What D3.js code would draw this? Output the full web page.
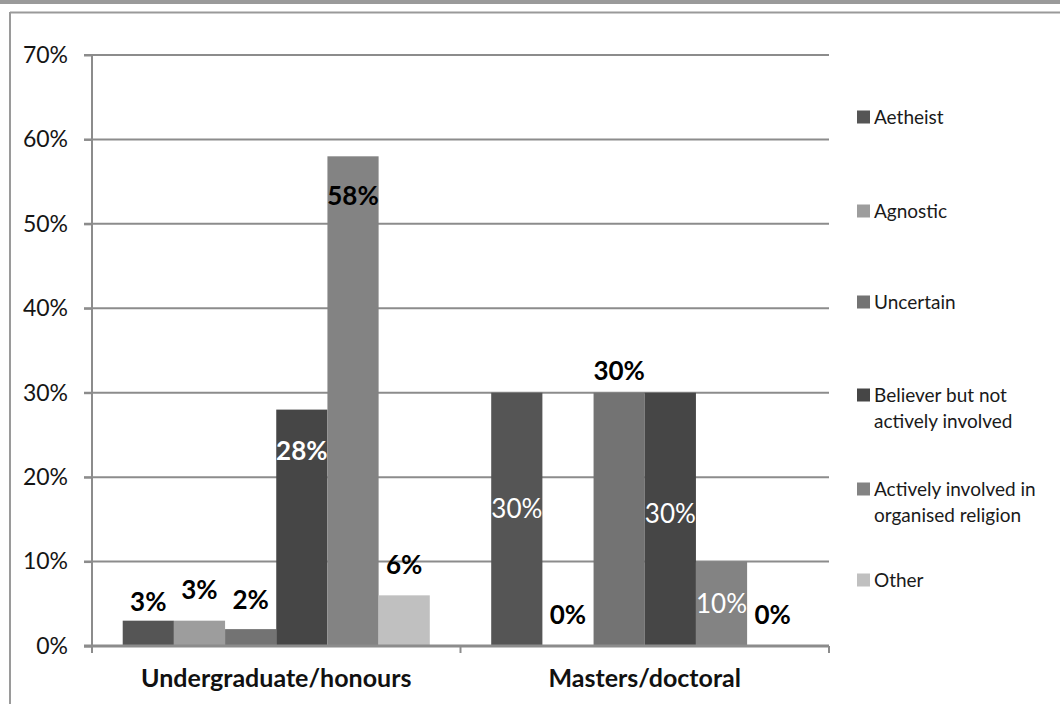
<!DOCTYPE html>
<html>
<head>
<meta charset="utf-8">
<script src="https://cdn.jsdelivr.net/npm/d3@7"></script>
<style>
  body { margin: 0; background: #fff; }
  svg { display: block; font-family: Lato, "Open Sans", sans-serif; }
</style>
</head>
<body>
<svg id="chart" width="1060" height="704"></svg>
<script>
// Share of respondents by religious position, per study level
const groups = ["Undergraduate/honours", "Masters/doctoral"];
const seriesNames = ["Aetheist", "Agnostic", "Uncertain", "Believer but not actively involved",
                     "Actively involved in organised religion", "Other"];
const undergraduate = [3, 3, 2, 28, 58, 6];
const masters = [30, 0, 30, 30, 10, 0];
const yTicks = [0, 10, 20, 30, 40, 50, 60, 70];

// Legend lines (the long names wrap onto two lines)
const legendLines = [["Aetheist"], ["Agnostic"], ["Uncertain"], ["Believer but not", "actively involved"],
                     ["Actively involved in", "organised religion"], ["Other"]];

// Styling
const fontFamily = "Lato, 'Open Sans', sans-serif";
const colors = ["#555555", "#9d9d9d", "#737373", "#464646", "#838383", "#c0c0c0"];
// label offset (px) from bar top, label colour and weight per group/series
const labelDy = [[-19, -31, -29, 41, 40, -30], [116, -31, -22, 121, 42, -31]];
const labelFill = [["#000", "#000", "#000", "#fff", "#000", "#000"], ["#fff", "#000", "#000", "#fff", "#fff", "#000"]];
const labelWeight = [[700, 700, 700, 700, 700, 700], [400, 700, 700, 400, 400, 700]];

const values = [undergraduate, masters];
const svg = d3.select("#chart");

// outer frame
svg.append("rect").attr("x", 0).attr("y", 0).attr("width", 1060).attr("height", 4).attr("fill", "#9a9a9a");
svg.append("line").attr("x1", 10).attr("x2", 1060).attr("y1", 12.5).attr("y2", 12.5).attr("stroke", "#9a9a9a").attr("stroke-width", 2);
svg.append("line").attr("x1", 10).attr("x2", 10).attr("y1", 12).attr("y2", 704).attr("stroke", "#9a9a9a").attr("stroke-width", 2);

const plotLeft = 92, plotRight = 829, plotTop = 55, plotBottom = 646;
const y = d3.scaleLinear().domain([0, 70]).range([plotBottom, plotTop]);
const x0 = d3.scaleBand().domain(groups).range([plotLeft, plotRight]).paddingInner(0).paddingOuter(0);
const x1 = d3.scaleBand().domain(seriesNames).range([0, x0.bandwidth()]).paddingOuter(0.6).paddingInner(0);

// gridlines
svg.append("g").selectAll("line").data(yTicks.filter(t => t > 0)).join("line")
  .attr("x1", plotLeft - 8).attr("x2", plotRight)
  .attr("y1", d => y(d)).attr("y2", d => y(d))
  .attr("stroke", "#8c8c8c").attr("stroke-width", 2);

// y axis
const yAxis = svg.append("g").attr("transform", `translate(${plotLeft},0)`)
  .call(d3.axisLeft(y).tickValues(yTicks).tickFormat(d => d + "%").tickSize(8).tickPadding(16));
yAxis.select(".domain").attr("stroke", "#8c8c8c").attr("stroke-width", 2).attr("d", `M0,${plotTop}V${plotBottom}`);
yAxis.selectAll(".tick line").attr("stroke", "#8c8c8c").attr("stroke-width", 2);
yAxis.selectAll(".tick text").attr("font-size", 23).attr("fill", "#151515").attr("font-family", fontFamily);

// bars
const gGroups = svg.append("g").selectAll("g").data(groups).join("g")
  .attr("transform", d => `translate(${x0(d)},0)`);
gGroups.selectAll("rect").data((g, gi) => values[gi].map((v, si) => ({v, si}))).join("rect")
  .attr("x", d => x1(seriesNames[d.si]))
  .attr("width", x1.bandwidth())
  .attr("y", d => y(d.v))
  .attr("height", d => y(0) - y(d.v))
  .attr("fill", d => colors[d.si]);

// x axis
const xAxis = svg.append("g").attr("transform", `translate(0,${plotBottom})`)
  .call(d3.axisBottom(x0).tickSize(0).tickPadding(23));
xAxis.select(".domain").attr("stroke", "#8c8c8c").attr("stroke-width", 3).attr("d", `M${plotLeft - 8},0H${plotRight}`);
xAxis.selectAll(".tick text").attr("font-size", 25).attr("font-weight", 700).attr("fill", "#111")
  .attr("font-family", fontFamily);
// category separators
svg.append("g").selectAll("line").data([plotLeft, x0(groups[1]), plotRight]).join("line")
  .attr("x1", d => d).attr("x2", d => d).attr("y1", plotBottom).attr("y2", plotBottom + 7)
  .attr("stroke", "#8c8c8c").attr("stroke-width", 2);

// value labels
gGroups.selectAll("text.val").data((g, gi) => values[gi].map((v, si) => ({v, si, gi}))).join("text")
  .attr("class", "val")
  .attr("x", d => x1(seriesNames[d.si]) + x1.bandwidth() / 2)
  .attr("y", d => y(d.v) + labelDy[d.gi][d.si])
  .attr("dy", "0.35em")
  .attr("text-anchor", "middle")
  .attr("font-size", 26)
  .attr("font-weight", d => labelWeight[d.gi][d.si])
  .attr("fill", d => labelFill[d.gi][d.si])
  .text(d => d.v + "%");

// legend
const legendY = [117, 211, 302, 395, 489, 580];
const legend = svg.append("g").selectAll("g").data(legendLines).join("g")
  .attr("transform", (d, i) => `translate(857,${legendY[i]})`);
legend.append("rect").attr("x", 0).attr("y", -6.5).attr("width", 13).attr("height", 13)
  .attr("fill", (d, i) => colors[i]);
legend.append("text").attr("x", 17).attr("font-size", 19).attr("fill", "#1a1a1a")
  .selectAll("tspan").data(d => d).join("tspan")
  .attr("x", 17).attr("y", (d, i) => i * 26).attr("dy", "0.35em").text(d => d);
</script>
</body>
</html>
